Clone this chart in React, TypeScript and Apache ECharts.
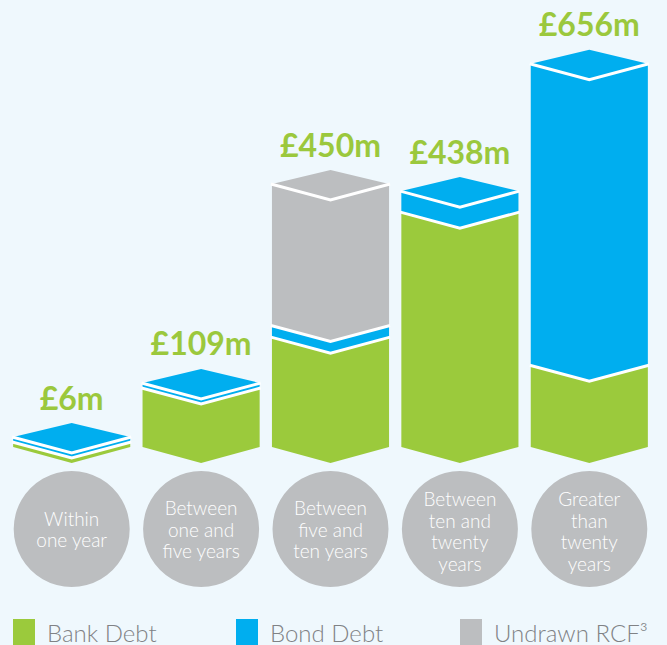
import React, { useEffect, useRef } from "react";
import * as echarts from "echarts";

// ---- data ----
const categories = [
  "Within\none year",
  "Between\none and\nfive years",
  "Between\nfive and\nten years",
  "Between\nten and\ntwenty\nyears",
  "Greater\nthan\ntwenty\nyears",
];
const bankDebt = [3, 101, 188, 402, 140];
const bondDebt = [3, 8, 20, 36, 516];
const undrawnRcf = [0, 0, 242, 0, 0];
const seriesNames = ["Bank Debt", "Bond Debt", "Undrawn RCF³"];
const yMax = 700;

// ---- styles ----
const colors = ["#9bca3c", "#00aeef", "#bcbec0"];
const labelGreen = "#9bc83d";
const bg = "#eff8fd";
const FONT = "Lato, 'Open Sans', 'DejaVu Sans', sans-serif";
const D = 16; // front depth
const TOPH = 14; // top face rise
const MIN_H = 5;
const CIRCLE_Y = 529;
const LINE_H = 21.5;

const stacks = [bankDebt, bondDebt, undrawnRcf];
const totals = categories.map((_, i) => stacks.reduce((s, a) => s + a[i], 0));

function geometry(api: any, i: number) {
  const base = api.coord([i, 0]);
  const unit = (base[1] - api.coord([i, 100])[1]) / 100;
  const band = api.size([1, 0])[0];
  const half = (band * 0.905) / 2;
  const cx = base[0];
  const segs: any[] = [];
  let y = base[1];
  stacks.forEach((arr) => {
    const v = arr[i];
    if (v > 0) {
      const h = Math.max(v * unit, MIN_H);
      segs.push({ bot: y, top: y - h });
      y -= h;
    } else segs.push(null);
  });
  return { cx, half, segs, top: y };
}

export default function App() {
  const ref = useRef<HTMLDivElement>(null);
  useEffect(() => {
    if (!ref.current) return;
    const chart = echarts.init(ref.current, undefined, { renderer: "svg" });

    const segSeries = stacks.map((arr, k) => ({
      type: "custom",
      name: seriesNames[k],
      itemStyle: { color: colors[k] },
      data: arr.map((v, i) => [i, v]),
      encode: { x: 0, y: 1 },
      renderItem: (params: any, api: any) => {
        const i = api.value(0);
        const g = geometry(api, i);
        const s = g.segs[k];
        if (!s) return { type: "group", children: [] };
        const L = g.cx - g.half, R = g.cx + g.half, C = g.cx;
        return {
          type: "polygon",
          shape: {
            points: [
              [L, s.top], [C, s.top + D], [R, s.top],
              [R, s.bot], [C, s.bot + D], [L, s.bot],
            ],
          },
          style: { fill: colors[k] },
        };
      },
    }));

    const decor = {
      type: "custom",
      silent: true,
      data: totals.map((t, i) => [i, t]),
      encode: { x: 0, y: 1 },
      renderItem: (params: any, api: any) => {
        const i = api.value(0);
        const g = geometry(api, i);
        const L = g.cx - g.half, R = g.cx + g.half, C = g.cx;
        let topIdx = 0;
        g.segs.forEach((s: any, k: number) => { if (s) topIdx = k; });
        const children: any[] = [];
        children.push({
          type: "polygon",
          shape: { points: [[L, g.top], [C, g.top - TOPH], [R, g.top], [C, g.top + D]] },
          style: { fill: colors[topIdx] },
        });
        g.segs.forEach((s: any) => {
          if (!s) return;
          children.push({
            type: "polyline",
            shape: { points: [[L - 1, s.top], [C, s.top + D], [R + 1, s.top]] },
            style: { stroke: "#ffffff", lineWidth: 3, fill: null },
          });
        });
        children.push({
          type: "text",
          x: C,
          y: g.top - TOPH - 26,
          style: {
            text: "£" + api.value(1) + "m",
            align: "center",
            verticalAlign: "middle",
            fill: labelGreen,
            fontSize: 32,
            fontWeight: "bold",
            fontFamily: FONT,
          },
        });
        children.push({
          type: "circle",
          shape: { cx: C, cy: CIRCLE_Y, r: 58 },
          style: { fill: "#bcbec0" },
        });
        const lines = categories[i].split("\n");
        const y0 = CIRCLE_Y + (lines.length > 3 ? 2 : 0) - ((lines.length - 1) * LINE_H) / 2;
        lines.forEach((ln, j) => {
          children.push({
            type: "text",
            x: C,
            y: y0 + j * LINE_H,
            style: {
              text: ln,
              align: "center",
              verticalAlign: "middle",
              fill: "#ffffff",
              fontSize: 19,
              fontWeight: 300,
              fontFamily: FONT,
            },
          });
        });
        return { type: "group", children };
      },
    };

    chart.setOption({
      animation: false,
      backgroundColor: bg,
      grid: { left: 7, right: 13, top: 38, bottom: 198 },
      xAxis: { type: "category", data: categories, show: false },
      yAxis: { type: "value", min: 0, max: yMax, show: false },
      legend: seriesNames.map((n, k) => ({
        data: [n],
        left: [13, 236, 460][k],
        top: 619,
        padding: 0,
        itemWidth: 22,
        itemHeight: 26,
        icon: "rect",
        selectedMode: false,
        textStyle: { color: "#808285", fontSize: 24, fontWeight: 300, fontFamily: FONT, padding: [0, 0, 0, 7] },
      })),
      series: [...segSeries, decor],
    });
    return () => chart.dispose();
  }, []);
  return (
    <div
      ref={ref}
      style={{ position: "absolute", left: 0, top: 0, width: 667, height: 645, background: bg }}
    />
  );
}
